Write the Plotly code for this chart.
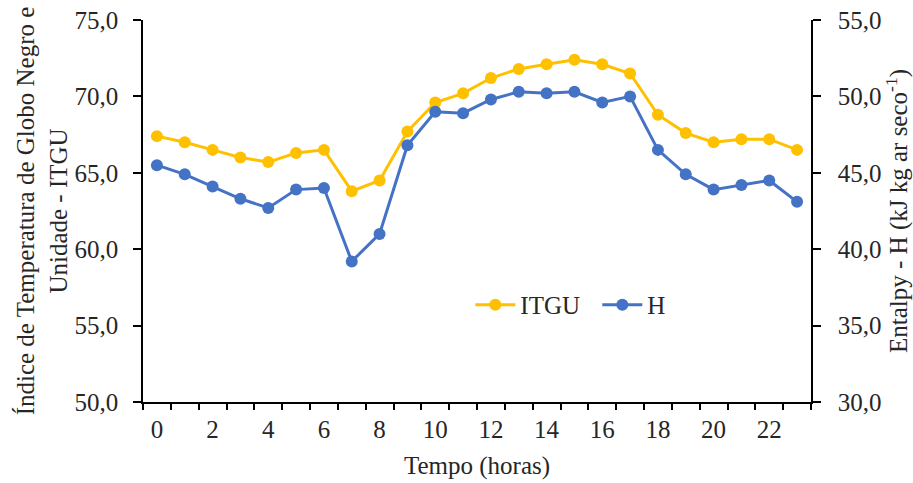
import plotly.graph_objects as go

hours = list(range(24))
itgu = [67.4, 67.0, 66.5, 66.0, 65.7, 66.3, 66.5, 63.8, 64.5, 67.7, 69.6, 70.2,
        71.2, 71.8, 72.1, 72.4, 72.1, 71.5, 68.8, 67.6, 67.0, 67.2, 67.2, 66.5]
h = [45.5, 44.9, 44.1, 43.3, 42.7, 43.9, 44.0, 39.2, 41.0, 46.8, 49.0, 48.9,
     49.8, 50.3, 50.2, 50.3, 49.6, 50.0, 46.5, 44.9, 43.9, 44.2, 44.5, 43.1]
x_labels = [0, 2, 4, 6, 8, 10, 12, 14, 16, 18, 20, 22]

FONT = "Liberation Serif"
FS = 25
TXT = "#262626"

fig = go.Figure()
fig.add_trace(go.Scatter(x=hours, y=itgu, name="ITGU", mode="lines+markers",
                         line=dict(color="#FFC000", width=3),
                         marker=dict(color="#FFC000", size=12)))
fig.add_trace(go.Scatter(x=hours, y=h, name="H", mode="lines+markers", yaxis="y2",
                         line=dict(color="#4472C4", width=3),
                         marker=dict(color="#4472C4", size=12)))

fig.update_layout(
    width=913, height=483,
    margin=dict(l=143, r=102, t=20, b=81, autoexpand=False),
    plot_bgcolor="white", paper_bgcolor="white",
    separators=",.",
    font=dict(family=FONT, size=FS, color=TXT),
    showlegend=True,
    legend=dict(orientation="h", x=0.49, y=0.254, xanchor="left", yanchor="middle",
                font=dict(family=FONT, size=FS, color=TXT),
                bgcolor="rgba(0,0,0,0)", itemwidth=40, entrywidth=72),
    xaxis=dict(range=[-0.5, 23.5], tickmode="array", tickvals=x_labels,
               ticktext=[str(v) for v in x_labels], ticks="", automargin=False,
               showline=True, linecolor="black", linewidth=1.5,
               showgrid=False, zeroline=False, ticklabelstandoff=4,
               minor=dict(ticks="outside", tick0=-0.5, dtick=1, ticklen=6,
                          tickcolor="black", tickwidth=1.5, showgrid=False),
               title=dict(text="Tempo (horas)", standoff=15,
                          font=dict(family=FONT, size=FS)),
               tickfont=dict(family=FONT, size=FS)),
    yaxis=dict(range=[50, 75], tickmode="array", tickvals=[50, 55, 60, 65, 70, 75],
               tickformat=".1f", ticks="outside", ticklen=8, tickcolor="black",
               tickwidth=1.5, showline=True, linecolor="black", linewidth=1.5,
               showgrid=False, zeroline=False, ticklabelstandoff=10, automargin=False,
               tickfont=dict(family=FONT, size=FS),
               title=dict(text="Índice de Temperatura de Globo Negro e<br>Unidade - ITGU",
                          standoff=0, font=dict(family=FONT, size=FS))),
    yaxis2=dict(range=[30, 55], overlaying="y", side="right",
                tickmode="array", tickvals=[30, 35, 40, 45, 50, 55],
                tickformat=".1f", ticks="outside", ticklen=8, tickcolor="black",
                tickwidth=1.5, showline=True, linecolor="black", linewidth=1.5,
                showgrid=False, zeroline=False, ticklabelstandoff=12, automargin=False,
                tickfont=dict(family=FONT, size=FS),
                title=dict(text="Entalpy - H (kJ kg ar seco<sup>-1</sup>)",
                           standoff=17, font=dict(family=FONT, size=FS))),
)

fig.write_html("out.html")
